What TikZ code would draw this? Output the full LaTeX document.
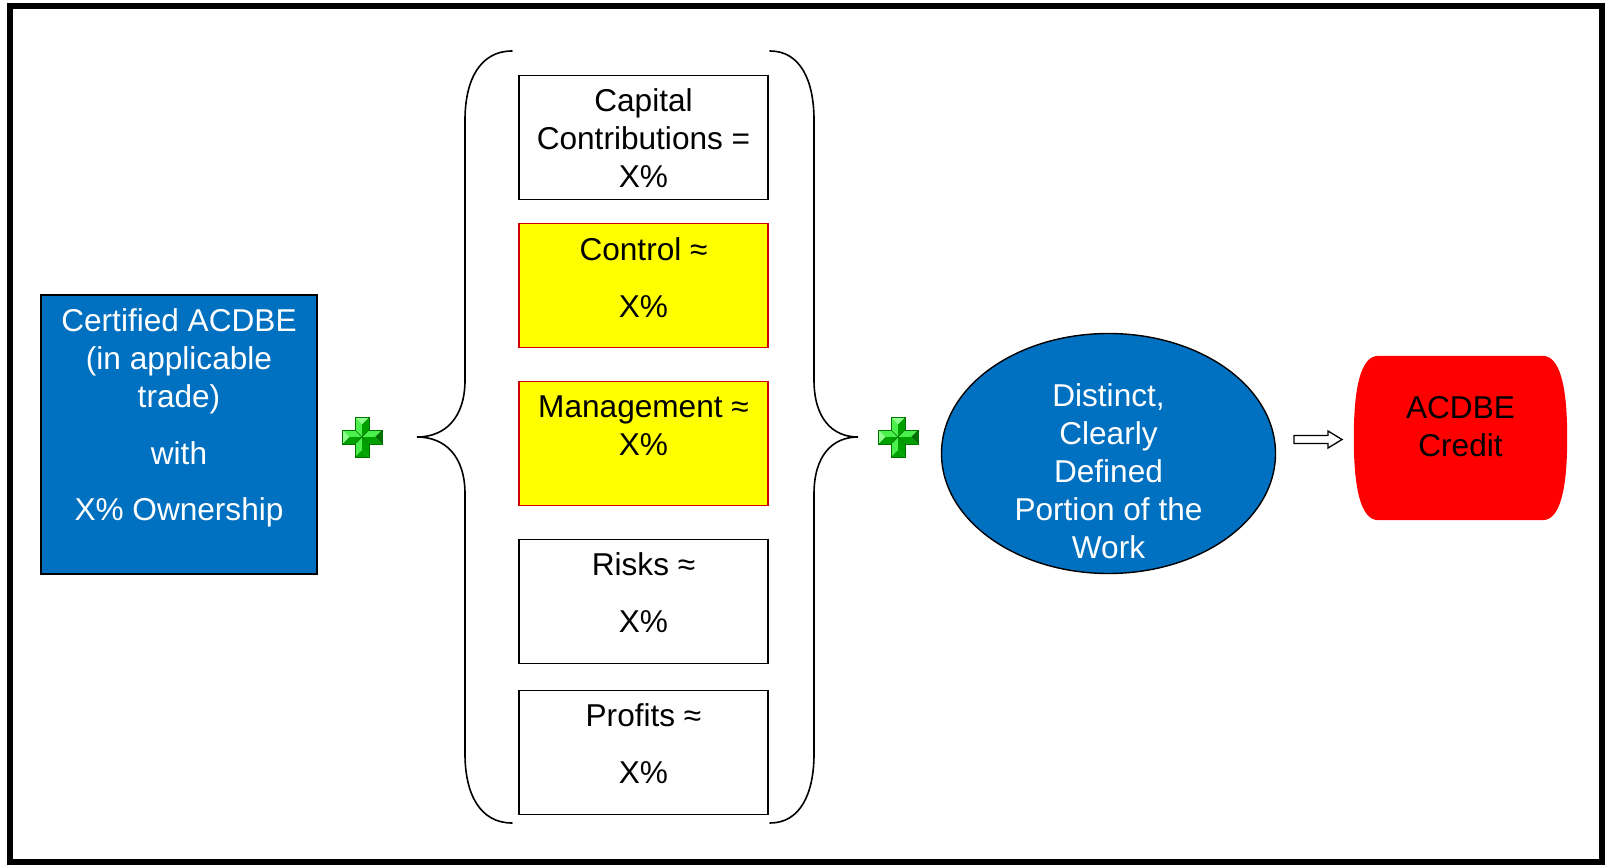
\documentclass[tikz,border=0pt]{standalone}
\usepackage{fontspec}
\setmainfont{Liberation Sans}
\usetikzlibrary{shapes.geometric}
\definecolor{acblue}{HTML}{0070C0}
\definecolor{acred}{HTML}{FF0000}
\definecolor{acyellow}{HTML}{FFFF00}
\definecolor{acedge}{HTML}{D00000}
\definecolor{crossLight}{HTML}{4CF04C}
\definecolor{crossCap}{HTML}{8CFF8C}
\definecolor{crossDark}{HTML}{00A000}
\definecolor{crossDeep}{HTML}{007000}
\tikzset{
  itembox/.style={draw=black, line width=1.6pt, minimum width=249pt, minimum height=124pt, inner sep=0pt},
  hotbox/.style={itembox, draw=acedge, fill=acyellow},
  txt/.style={align=center, inner sep=0pt, font=\fontsize{31.6}{38}\selectfont},
  brace/.style={line width=1.6pt, line cap=round},
  greencross/.pic={
    % bevelled green plus sign: half arm width 7, arm reach 20
    \fill[crossLight] (-7,-7) -- (0,0) -- (0,-13) -- (-7,-20) -- cycle;
    \fill[crossDark]  (7,-7) -- (0,0) -- (0,-13) -- (7,-20) -- cycle;
    \fill[crossCap]   (-7,-20) -- (7,-20) -- (0,-13) -- cycle;
    \fill[crossLight] (-7,7) -- (0,0) -- (0,13) -- (-7,20) -- cycle;
    \fill[crossDark]  (7,7) -- (0,0) -- (0,13) -- (7,20) -- cycle;
    \fill[crossDark]  (-7,20) -- (7,20) -- (0,13) -- cycle;
    \fill[crossLight] (-7,-7) -- (0,0) -- (-13,0) -- (-20,-7) -- cycle;
    \fill[crossDark]  (-7,7) -- (0,0) -- (-13,0) -- (-20,7) -- cycle;
    \fill[crossCap]   (-20,-7) -- (-20,7) -- (-13,0) -- cycle;
    \fill[crossLight] (7,-7) -- (0,0) -- (13,0) -- (20,-7) -- cycle;
    \fill[crossDark]  (7,7) -- (0,0) -- (13,0) -- (20,7) -- cycle;
    \fill[crossDeep]  (20,-7) -- (20,7) -- (13,0) -- cycle;
    \draw[crossDeep, line width=0.5pt] (-7,-20) -- (7,-20) -- (7,-7) -- (20,-7) -- (20,7) -- (7,7)
      -- (7,20) -- (-7,20) -- (-7,7) -- (-20,7) -- (-20,-7) -- (-7,-7) -- cycle;
    \draw[crossDeep, line width=0.4pt] (-7,-7) -- (7,7) (7,-7) -- (-7,7);
  }
}
\begin{document}
\begin{tikzpicture}[x=1pt, y=-1pt]
\useasboundingbox (0,0) rectangle (1606,866);
\fill[white] (0,0) rectangle (1606,866);
% outer frame
\draw[line width=6pt] (10,6) rectangle (1602,862);

% certified firm
\node[draw=black, line width=1.4pt, fill=acblue, minimum width=276pt, minimum height=279pt, inner sep=0pt]
  (firm) at (179,434.5) {};
\node[txt, text=white] (firmT) at (179,418)
  {Certified ACDBE\\(in applicable\\trade)\\[19pt]with\\[18pt]X\% Ownership};

% plus signs
\coordinate (plusA) at (362,437);
\pic at (plusA) {greencross};
\coordinate (plusB) at (898,437);
\pic at (plusB) {greencross};

% left brace
\draw[brace] (512,51) .. controls (480,51) and (465,80) .. (465,120)
  -- (465,380) .. controls (465,418) and (445,437) .. (417,437)
  .. controls (445,437) and (465,456) .. (465,494)
  -- (465,754) .. controls (465,794) and (480,823) .. (512,823);
% right brace
\draw[brace] (770,51) .. controls (800,51) and (814,80) .. (814,120)
  -- (814,380) .. controls (814,418) and (832,437) .. (858,437)
  .. controls (832,437) and (814,456) .. (814,494)
  -- (814,754) .. controls (814,794) and (800,823) .. (770,823);

% contribution boxes
\node[itembox] (capital) at (643.5,137.5) {};
\node[txt] (capitalT) at (643.5,138) {Capital\\Contributions =\\X\%};
\node[hotbox] (control) at (643.5,285.5) {};
\node[txt] (controlT) at (643.5,277.5) {Control ≈\\[19pt]X\%};
\node[hotbox] (manage) at (643.5,443.5) {};
\node[txt] (manageT) at (643.5,426) {Management ≈\\X\%};
\node[itembox] (risks) at (643.5,601.5) {};
\node[txt] (risksT) at (643.5,593) {Risks ≈\\[19pt]X\%};
\node[itembox] (profits) at (643.5,752.5) {};
\node[txt] (profitsT) at (643.5,743.5) {Profits ≈\\[19pt]X\%};

% portion of the work
\node[ellipse, draw=black, line width=1.4pt, fill=acblue, minimum width=334pt, minimum height=240pt, inner sep=0pt]
  (work) at (1108.5,453.5) {};
\node[txt, text=white] (workT) at (1108.5,471) {Distinct,\\Clearly\\Defined\\Portion of the\\Work};

% credit
\node[minimum width=213pt, minimum height=164pt, inner sep=0pt] (credit) at (1460.5,438) {};
\fill[acred] ([xshift=-82pt]credit.north) -- ([xshift=82pt]credit.north)
  .. controls ([xshift=100pt]credit.north) and ([yshift=50pt]credit.east) .. (credit.east)
  .. controls ([yshift=-50pt]credit.east) and ([xshift=100pt]credit.south) .. ([xshift=82pt]credit.south)
  -- ([xshift=-82pt]credit.south)
  .. controls ([xshift=-100pt]credit.south) and ([yshift=-50pt]credit.west) .. (credit.west)
  .. controls ([yshift=50pt]credit.west) and ([xshift=-100pt]credit.north) .. cycle;
\node[txt] (creditT) at (1460.5,426.5) {ACDBE\\Credit};

% hollow block arrow from the work to the credit
\coordinate (arrS) at (1294,439.5);
\coordinate (arrE) at (1342,439.5);
\draw[line width=1.3pt, fill=white, line join=miter]
  ([yshift=4pt]arrS) -- ([xshift=-14pt,yshift=4pt]arrE) -- ([xshift=-14pt,yshift=8.5pt]arrE)
  -- (arrE) -- ([xshift=-14pt,yshift=-8.5pt]arrE) -- ([xshift=-14pt,yshift=-4pt]arrE)
  -- ([yshift=-4pt]arrS) -- cycle;
\end{tikzpicture}
\end{document}
